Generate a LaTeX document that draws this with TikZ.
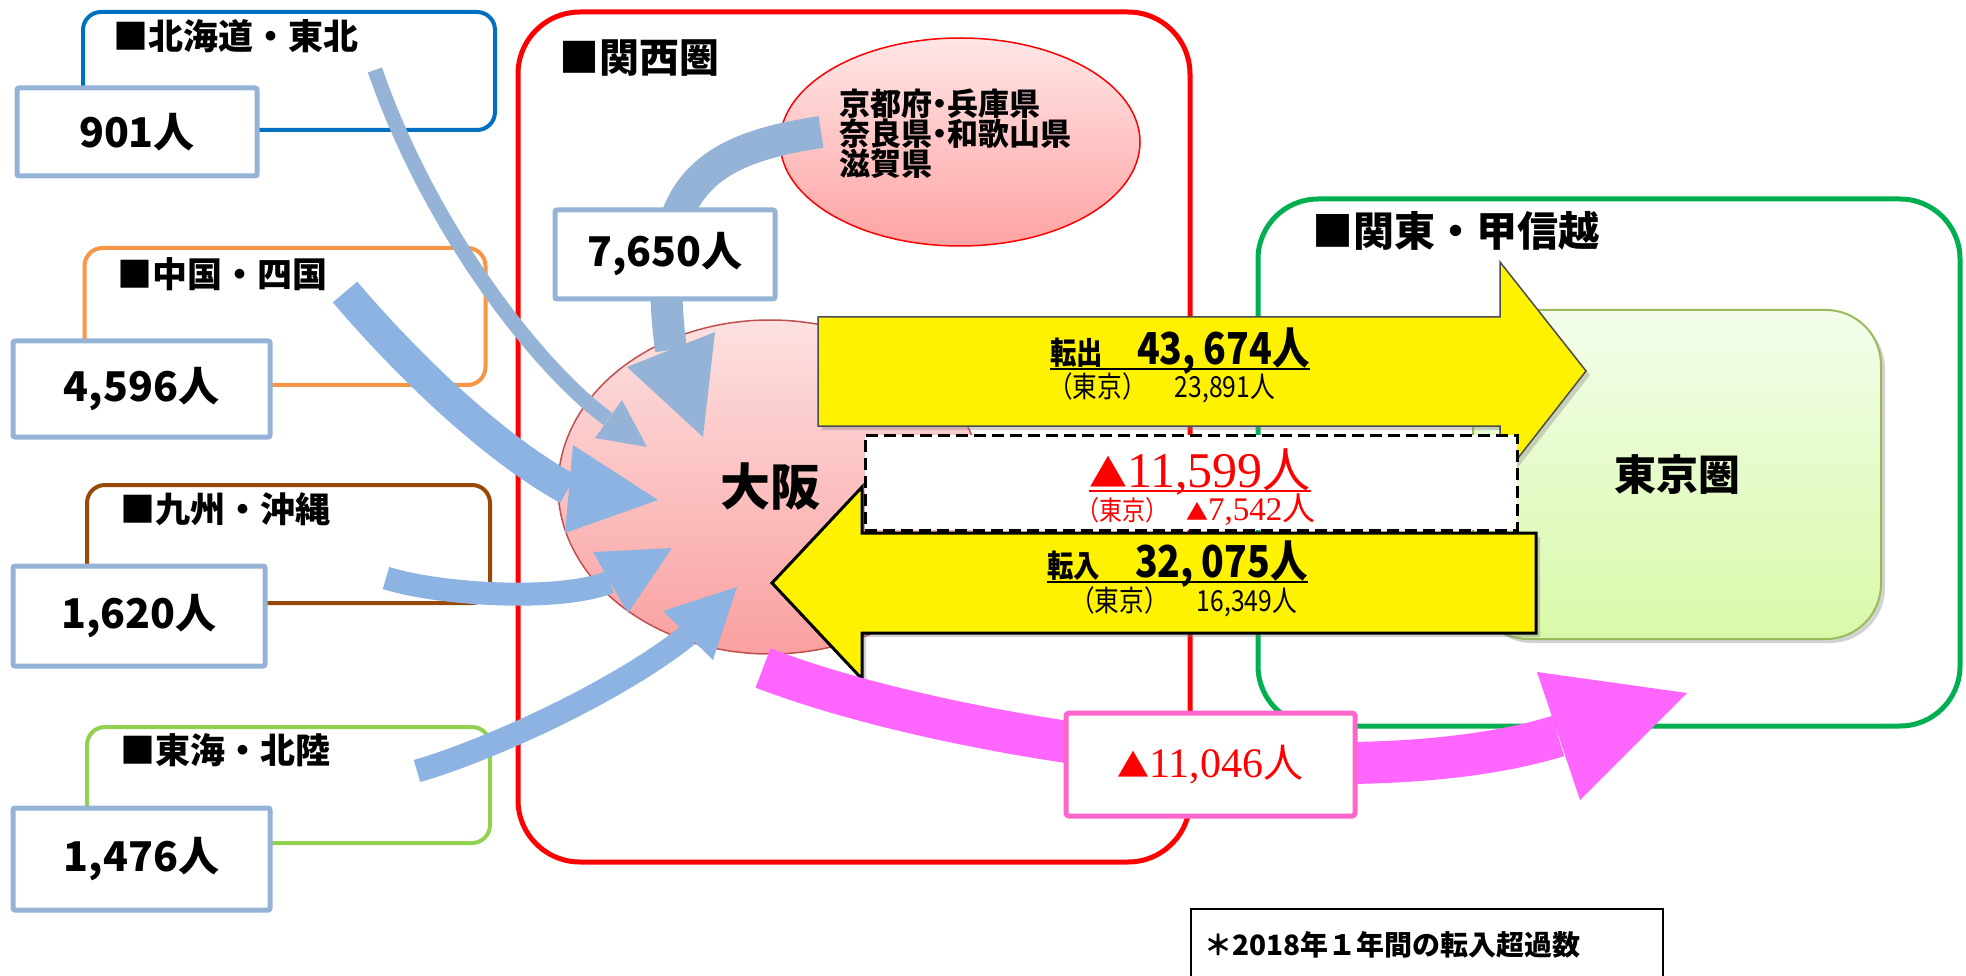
\documentclass[tikz,border=0pt]{standalone}
\usepackage{fontspec}
\setmainfont{Noto Sans CJK JP}
\newfontfamily\jpc{Noto Sans CJK JP}[FakeStretch=0.85]
\newfontfamily\ser{Liberation Serif}
\usetikzlibrary{shapes.geometric,shadows}
\newcommand\FS[1]{\fontsize{#1}{#1}\selectfont}
\newcommand\kyfont{\bfseries\fontsize{31}{30}\selectfont\lineskiplimit=-40pt\relax\lineskip=0pt\relax}
\definecolor{numblue}{HTML}{95B3D7}
\definecolor{arrA}{HTML}{95B3D7}
\definecolor{arrB}{HTML}{8DB3E2}
\definecolor{hokblue}{HTML}{0070C0}
\definecolor{orng}{HTML}{F79646}
\definecolor{brwn}{HTML}{984807}
\definecolor{lgreen}{HTML}{92D050}
\definecolor{kgreen}{HTML}{00B050}
\definecolor{pinkarr}{HTML}{FF66FF}
\definecolor{pinkbox}{HTML}{FF66CC}
\definecolor{tkborder}{HTML}{9BBB59}
\definecolor{tkTop}{HTML}{F3FDEB}
\definecolor{tkBot}{HTML}{D8F9A8}
\definecolor{kyTop}{HTML}{FFE6E6}
\definecolor{kyBot}{HTML}{FFA3A3}
\definecolor{osTop}{HTML}{FDE0E0}
\definecolor{osBot}{HTML}{FAA0A0}
\definecolor{osBorder}{HTML}{C0504D}
\begin{document}
\begin{tikzpicture}[x=1pt,y=-1pt,
  region/.style={draw, line width=4, rounded corners=18, inner sep=0},
  numbox/.style={draw=numblue, line width=5, fill=white, rounded corners=2, inner sep=0, font=\bfseries\FS{41}},
  lbl/.style={anchor=west, inner sep=0, font=\bfseries\FS{35}},
  txt/.style={inner sep=0},
  yshadow/.style={drop shadow={shadow xshift=4pt, shadow yshift=-4pt, opacity=0.35}}]
\fill[white] (0,0) rectangle (1966,976);
\useasboundingbox (0,0) rectangle (1966,976);

% region frames
\node[region, draw=hokblue, minimum width=412, minimum height=118] (rHok) at (289,71) {};
\node[region, draw=orng, minimum width=401, minimum height=137] (rChu) at (285,316.5) {};
\node[region, draw=brwn, minimum width=403, minimum height=118] (rKyu) at (288.5,544) {};
\node[region, draw=lgreen, minimum width=403, minimum height=116] (rTok) at (288.5,785) {};
\node[region, draw=red, line width=5, rounded corners=62, minimum width=672, minimum height=850] (rKan) at (854,437) {};
\node[region, draw=kgreen, line width=5, rounded corners=60, minimum width=702, minimum height=527] (rKto) at (1609,462.5) {};

% number boxes
\node[numbox, minimum width=240, minimum height=88] (n901) at (137,132) {901人};
\node[numbox, minimum width=257, minimum height=96] (n4596) at (141.5,389) {4,596人};
\node[numbox, minimum width=252, minimum height=100] (n1620) at (139,616) {1,620人};
\node[numbox, minimum width=257, minimum height=102] (n1476) at (141.5,859) {1,476人};

% labels
\node[lbl] (lHok) at (113,36) {■北海道・東北};
\node[lbl] (lChu) at (117,274) {■中国・四国};
\node[lbl] (lKyu) at (120,509) {■九州・沖縄};
\node[lbl] (lTok) at (120,750) {■東海・北陸};
\node[lbl, font=\bfseries\FS{40}] (lKan) at (559,58) {■関西圏};
\node[lbl, font=\bfseries\FS{41}] (lKto) at (1312,231) {■関東・甲信越};

% Tokyo area
\node[draw=tkborder, line width=2, rounded corners=55, top color=tkTop, bottom color=tkBot,
  minimum width=408, minimum height=329, yshadow, font=\bfseries\FS{42}] (tokyo) at (1677,474.5) {東京圏};

% Kyoto etc.
\node[ellipse, draw=red, line width=1.5, top color=kyTop, bottom color=kyBot,
  minimum width=360, minimum height=208, inner sep=0] (kyoto) at (960,142) {};
\node[txt, anchor=west, align=left, font=\kyfont] (kyT) at (839,134)
  {京都府\kern-8pt・\kern-8pt兵庫県\\奈良県\kern-8pt・\kern-8pt和歌山県\\滋賀県};

% Osaka
\node[ellipse, draw=osBorder, line width=1.5, top color=osTop, bottom color=osBot,
  minimum width=424, minimum height=334, inner sep=0, font=\bfseries\FS{50}] (osaka) at (770,487) {大阪};

% blue arrows
\coordinate (hS) at (375,70);  \coordinate (hE) at (608,419);
\coordinate (hT) at (647,447); \coordinate (hA) at (622,400); \coordinate (hB) at (595,438);
\draw[line width=15, arrA] (hS) .. controls (430,230) and (540,370) .. (hE);
\fill[arrA] (hT) -- (hA) -- (hB) -- cycle;

\coordinate (cS) at (345,292); \coordinate (cE) at (568,489);
\coordinate (cT) at (658,500); \coordinate (cA) at (573,445); \coordinate (cB) at (565,533);
\draw[line width=32, arrB] (cS) .. controls (390,345) and (480,440) .. (cE);
\fill[arrB] (cT) -- (cA) -- (cB) -- cycle;

\coordinate (qS) at (386,578); \coordinate (qE) at (610,582);
\coordinate (qT) at (672,548); \coordinate (qA) at (593,552); \coordinate (qB) at (628,613);
\draw[line width=23, arrB] (qS) .. controls (440,595) and (560,602) .. (qE);
\fill[arrB] (qT) -- (qA) -- (qB) -- cycle;

\coordinate (tS) at (417,771); \coordinate (tE) at (688,635);
\coordinate (tT) at (737,587); \coordinate (tA) at (663,611); \coordinate (tB) at (713,660);
\draw[line width=23, arrB] (tS) .. controls (490,750) and (620,690) .. (tE);
\fill[arrB] (tT) -- (tA) -- (tB) -- cycle;

\coordinate (kS) at (821,132); \coordinate (kE) at (671,350);
\coordinate (kT) at (703,437); \coordinate (kA) at (627,367); \coordinate (kB) at (715,332);
\draw[line width=32, arrA] (kS) .. controls (700,150) and (650,190) .. (kE);
\fill[arrA] (kT) -- (kA) -- (kB) -- cycle;

\node[numbox, minimum width=220, minimum height=89] (n7650) at (665,254.5) {7,650人};

% yellow arrows
\draw[fill=yellow, draw=black!70, line width=1.5, yshadow]
  (818,317) -- (1500,317) -- (1500,262) -- (1586,371) -- (1500,481) -- (1500,426) -- (818,426) -- cycle;
\node[txt, anchor=base west, font=\jpc\bfseries\FS{31}] (outL) at (1050,365) {転出};
\node[txt, anchor=base west, font=\jpc\bfseries\FS{44}] (outN) at (1137,365) {43,\hspace{8pt}674人};
\draw[line width=2.5] ([yshift=-4pt]outL.base west) -- ([yshift=-4pt]outN.base east);
\node[txt, anchor=base west, font=\jpc\FS{29}] (outT) at (1048,397) {（東京）\hspace{28pt}23,891人};

\draw[fill=yellow, draw=black, line width=3, yshadow]
  (1536,533) -- (862,533) -- (862,487) -- (772,583) -- (862,679) -- (862,633) -- (1536,633) -- cycle;
\node[txt, anchor=base west, font=\jpc\bfseries\FS{31}] (inL) at (1047,577) {転入};
\node[txt, anchor=base west, font=\jpc\bfseries\FS{44}] (inN) at (1135,577) {32,\hspace{8pt}075人};
\draw[line width=2.5] ([yshift=-5pt]inL.base west) -- ([yshift=-5pt]inN.base east);
\node[txt, anchor=base west, font=\jpc\FS{29}] (inT) at (1070,611) {（東京）\hspace{28pt}16,349人};

% difference box
\node[draw, dash pattern=on 12pt off 6pt, line width=3, fill=white, minimum width=652, minimum height=95, inner sep=0] (diff) at (1191,482.5) {};
\node[txt, anchor=base west, text=red] (dN) at (1089,487) {\FS{38}▲\ser\FS{50}11,599\rmfamily\FS{48}人};
\draw[red, line width=2.5] ([yshift=-4pt]dN.base west) -- ([yshift=-4pt]dN.base east);
\node[txt, anchor=base west, text=red] (dT) at (1076,520) {\jpc\FS{27}（東京）\hspace{18pt}\rmfamily\FS{22}▲\ser\FS{33}7,542\rmfamily\FS{33}人};

% pink arrow
\coordinate (pS) at (763,668); \coordinate (pE) at (1558,736);
\coordinate (pT) at (1687,693); \coordinate (pA) at (1537,672); \coordinate (pB) at (1580,800);
\draw[line width=42, pinkarr] (pS) .. controls (950,740) and (1350,800) .. (pE);
\fill[pinkarr] (pT) -- (pA) -- (pB) -- cycle;
\node[draw=pinkbox, line width=5, fill=white, rounded corners=3, minimum width=289, minimum height=103, inner sep=0, text=red]
  (pBox) at (1210.5,764.5) {\FS{32}▲\ser\FS{42}11,046\rmfamily\FS{40}人};

% note
\node[draw, line width=1.5, minimum width=472, minimum height=100, anchor=north west, inner sep=0] (note) at (1190,908) {};
\node[txt, anchor=base west, font=\bfseries\FS{28}] (noteT) at (1204,955) {＊2018年１年間の転入超過数};
\end{tikzpicture}
\end{document}
